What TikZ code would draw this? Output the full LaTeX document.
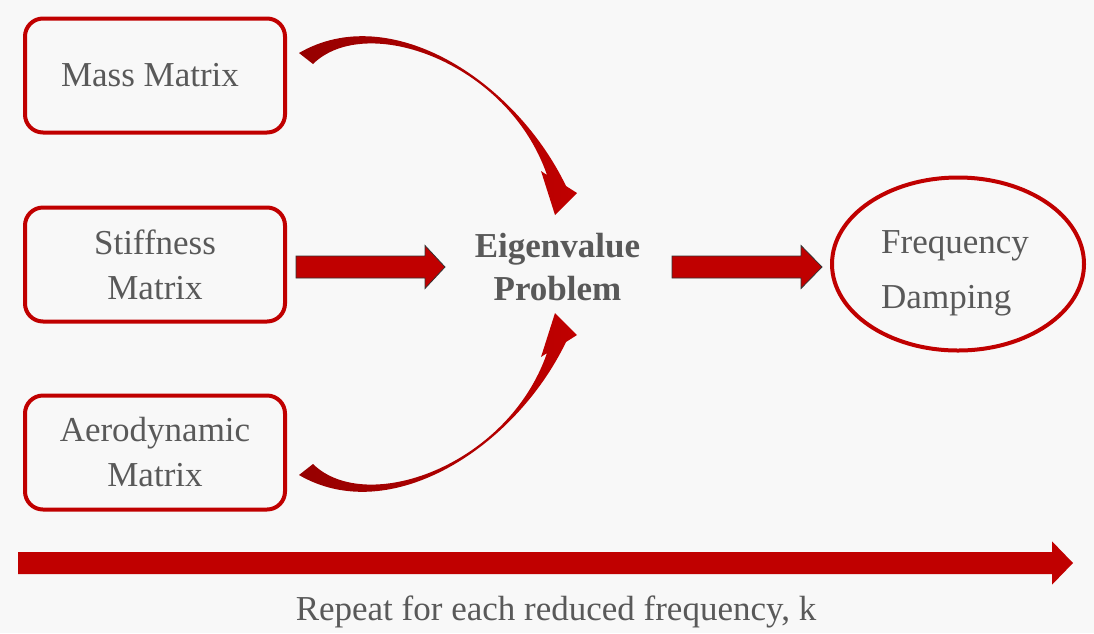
\documentclass[tikz,border=0pt]{standalone}
\usepackage{fontspec}
\setmainfont{Liberation Serif}
\usetikzlibrary{calc,shapes.geometric}
\definecolor{bgc}{RGB}{248,248,248}
\definecolor{dred}{RGB}{192,0,0}
\definecolor{ddred}{RGB}{150,0,0}
\definecolor{txt}{RGB}{89,89,89}
\newcommand\blockarrow[6]{% style, start, end, body half, head half, head length
  \draw[#1] ($(#2)+(0,-#4)$) -- ($(#3)+(-#6,-#4)$) -- ($(#3)+(-#6,-#5)$) -- (#3)
    -- ($(#3)+(-#6,#5)$) -- ($(#3)+(-#6,#4)$) -- ($(#2)+(0,#4)$) -- cycle;}
\begin{document}
\begin{tikzpicture}[x=1pt,y=-1pt,
  box/.style={draw=dred, line width=4pt, rounded corners=18pt,
    minimum width=260pt, minimum height=114pt, text=txt, align=center,
    font=\fontsize{35}{45}\selectfont, inner sep=0pt},
  flatarrow/.style={fill=dred, draw=black!80, line width=0.8pt, line join=miter},
  longarrow/.style={fill=dred, draw=none},
  curvefill/.style={left color=ddred, right color=dred, shading=axis}]
\fill[bgc] (0,0) rectangle (1094,633);
\useasboundingbox (0,0) rectangle (1094,633);

% input boxes
\node[box] (mass)  at (155,75.5)  {Mass Matrix\hspace*{10pt}};
\node[box] (stiff) at (155,264.5) {Stiffness\\Matrix};
\node[box] (aero)  at (155,452.5) {Aerodynamic\\Matrix};

% central text
\node[font=\bfseries\fontsize{35}{43}\selectfont, text=txt, align=center, inner sep=0pt]
  (eig) at (557.5,267) {Eigenvalue\\Problem};

% output ellipse
\node[ellipse, draw=dred, line width=4pt, minimum width=252pt, minimum height=173pt,
  inner sep=0pt] (fd) at (958,264) {};
\node[anchor=west, text=txt, align=left, inner sep=0pt,
  font=\fontsize{35}{55}\selectfont] (fdtext) at (881,273) {Frequency\\Damping};

% straight arrows
\coordinate (a1s) at (296,267);
\coordinate (a1e) at (445,267);
\blockarrow{flatarrow}{a1s}{a1e}{11}{21.5}{20}
\coordinate (a2s) at (672,267);
\coordinate (a2e) at (822,267);
\blockarrow{flatarrow}{a2s}{a2e}{11}{21.5}{21}

% curved arrows
\shade[curvefill] (299,53) -- (313,64) .. controls (366,12) and (508,62) .. (547,175)
  -- (541,171) -- (555,215) -- (577,193) -- (566,186)
  .. controls (515,80) and (390,0) .. (299,53) -- cycle;
\begin{scope}[yshift=-528pt, yscale=-1]
\shade[curvefill] (299,53) -- (313,64) .. controls (366,12) and (508,62) .. (547,175)
  -- (541,171) -- (555,215) -- (577,193) -- (566,186)
  .. controls (515,80) and (390,0) .. (299,53) -- cycle;
\end{scope}

% long repeat arrow
\coordinate (rs) at (18,563);
\coordinate (re) at (1073,563);
\blockarrow{longarrow}{rs}{re}{11}{21.7}{21}
\node[anchor=base, text=txt, font=\fontsize{35}{42}\selectfont, inner sep=0pt]
  (rep) at (556,620) {Repeat for each reduced frequency, k};
\end{tikzpicture}
\end{document}
